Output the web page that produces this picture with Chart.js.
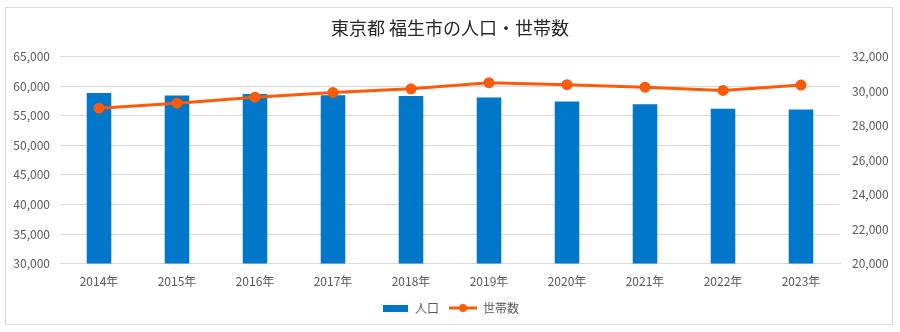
<!DOCTYPE html>
<html>
<head>
<meta charset="utf-8">
<script src="https://cdn.jsdelivr.net/npm/chart.js@4.4.1/dist/chart.umd.min.js"></script>
<style>
  html, body { margin: 0; padding: 0; background: #fff; }
  #wrap { position: relative; width: 900px; height: 332px; }
</style>
</head>
<body>
<div id="wrap"><canvas id="myChart" width="900" height="332"></canvas></div>
<script>
// data
const years = ['2014年', '2015年', '2016年', '2017年', '2018年', '2019年', '2020年', '2021年', '2022年', '2023年'];
const population = [58830, 58420, 58660, 58450, 58320, 58085, 57405, 56960, 56165, 56050];
const households = [29010, 29300, 29650, 29920, 30135, 30485, 30370, 30230, 30040, 30350];
const leftTicks = { min: 30000, max: 65000, step: 5000 };
const rightTicks = { min: 20000, max: 32000, step: 2000 };

const blue = '#0077C8';
const orange = '#FF5A0A';
const textGray = '#595959';
const gridGray = '#D9D9D9';
const font = '"Noto Sans CJK JP", "Noto Sans", sans-serif';

// little pictures for the legend entries
const makeBarIcon = () => {
    const c = document.createElement('canvas');
    c.width = 28; c.height = 10;
    const g = c.getContext('2d');
    g.fillStyle = blue;
    g.fillRect(2, 2, 25, 7);
    return c;
}
const makeLineIcon = () => {
    const c = document.createElement('canvas');
    c.width = 28; c.height = 10;
    const g = c.getContext('2d');
    g.strokeStyle = orange;
    g.lineWidth = 3;
    g.beginPath(); g.moveTo(0, 5); g.lineTo(28, 5); g.stroke();
    g.fillStyle = orange;
    g.beginPath(); g.arc(14, 5, 4, 0, Math.PI * 2); g.fill();
    return c;
}
const icons = [makeBarIcon(), makeLineIcon()];

// outer frame like the spreadsheet chart
const framePlugin = {
    id: 'frame',
    beforeDraw(chart) {
        const ctx = chart.ctx;
        ctx.save();
        ctx.strokeStyle = gridGray;
        ctx.lineWidth = 1;
        ctx.strokeRect(5.5, 7.5, 887, 317);
        ctx.restore();
    }
};

const data = {
    labels: years,
    datasets: [
        {
            type: 'bar',
            label: '人口',
            data: population,
            backgroundColor: blue,
            yAxisID: 'y',
            barPercentage: 1,
            categoryPercentage: 0.315,
            order: 2
        },
        {
            type: 'line',
            label: '世帯数',
            data: households,
            borderColor: orange,
            backgroundColor: orange,
            borderWidth: 3,
            pointRadius: 4,
            pointBackgroundColor: orange,
            pointBorderColor: orange,
            tension: 0,
            yAxisID: 'y1',
            order: 1
        }
    ]
};

const config = {
    type: 'bar',
    data: data,
    plugins: [framePlugin],
    options: {
        responsive: false,
        animation: false,
        layout: { padding: { top: 8, bottom: 8, left: 0, right: 0 } },
        plugins: {
            title: {
                display: true,
                text: '東京都 福生市の人口・世帯数',
                color: '#262626',
                font: { family: font, size: 18, weight: 'normal' },
                padding: { top: 9, bottom: 18 }
            },
            legend: {
                position: 'bottom',
                labels: {
                    color: textGray,
                    font: { family: font, size: 12 },
                    usePointStyle: true,
                    pointStyleWidth: 28,
                    padding: 10,
                    sort: (a, b) => a.datasetIndex - b.datasetIndex,
                    generateLabels(chart) {
                        const items = Chart.defaults.plugins.legend.labels.generateLabels(chart);
                        items.forEach(it => { it.pointStyle = icons[it.datasetIndex]; });
                        return items;
                    }
                }
            },
            tooltip: { enabled: false }
        },
        scales: {
            x: {
                grid: { display: false },
                border: { color: gridGray },
                ticks: { color: textGray, font: { family: font, size: 12 }, padding: 3 }
            },
            y: {
                position: 'left',
                min: leftTicks.min,
                max: leftTicks.max,
                ticks: {
                    stepSize: leftTicks.step,
                    color: textGray,
                    font: { family: font, size: 12 },
                    padding: 10
                },
                grid: { color: gridGray, drawTicks: false },
                border: { display: false },
                afterFit(scale) { scale.width = 60; }
            },
            y1: {
                position: 'right',
                min: rightTicks.min,
                max: rightTicks.max,
                ticks: {
                    stepSize: rightTicks.step,
                    color: textGray,
                    font: { family: font, size: 12 },
                    padding: 12
                },
                grid: { display: false, drawTicks: false },
                border: { display: false },
                afterFit(scale) { scale.width = 60; }
            }
        }
    }
};

const myChart = new Chart(document.getElementById('myChart'), config);
</script>
</body>
</html>
